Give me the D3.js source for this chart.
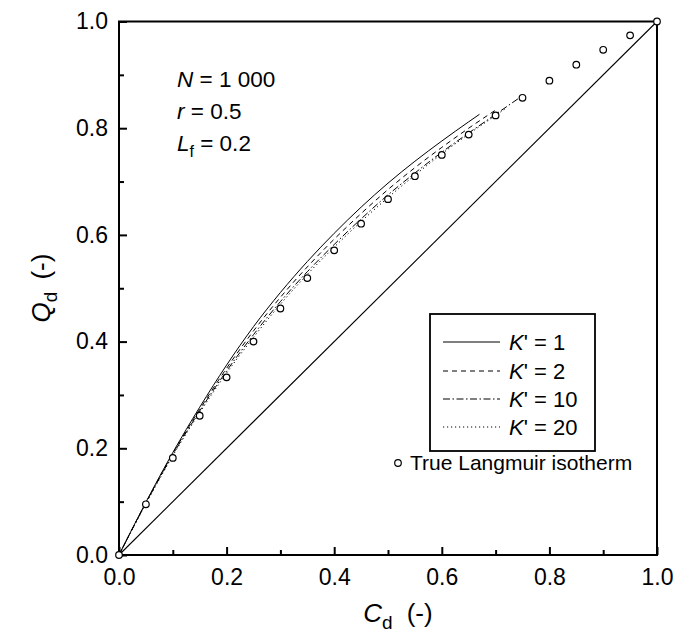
<!DOCTYPE html>
<html>
<head>
<meta charset="utf-8">
<script src="https://cdn.jsdelivr.net/npm/d3@7"></script>
<style>
  html, body { margin: 0; padding: 0; background: #fff; }
  svg text { font-family: "Liberation Sans", Arial, Helvetica, sans-serif; fill: #000; }
</style>
</head>
<body>
<svg id="chart" width="678" height="642"></svg>
<script>
// Dimensionless concentration grid shared by the curves
const cd = [0, 0.05, 0.1, 0.15, 0.2, 0.25, 0.3, 0.35, 0.4, 0.45, 0.5, 0.55, 0.6, 0.65, 0.7, 0.75];

// Simulated isotherms for each K'
const qK1  = [0, 0.099, 0.192, 0.277, 0.356, 0.428, 0.492, 0.550, 0.603, 0.652, 0.697, 0.738, 0.776, 0.812];
const cdK1End = 0.67, qK1End = 0.826;
const qK2  = [0, 0.098, 0.190, 0.273, 0.350, 0.420, 0.483, 0.540, 0.592, 0.640, 0.685, 0.726, 0.764, 0.800, 0.834];
const qK10 = [0, 0.097, 0.188, 0.270, 0.345, 0.413, 0.475, 0.531, 0.582, 0.630, 0.675, 0.716, 0.755, 0.791, 0.826, 0.861];
const qK20 = [0, 0.096, 0.186, 0.267, 0.341, 0.408, 0.470, 0.526, 0.577, 0.625, 0.670, 0.712, 0.752, 0.789, 0.824];
const cdK20End = 0.72, qK20End = 0.838;

// True Langmuir isotherm points
const langC = [0, 0.05, 0.1, 0.15, 0.2, 0.25, 0.3, 0.35, 0.4, 0.45, 0.5, 0.55, 0.6, 0.65, 0.7, 0.75, 0.8, 0.85, 0.9, 0.95, 1.0];
const langQ = [0, 0.095, 0.182, 0.261, 0.333, 0.400, 0.462, 0.519, 0.571, 0.621, 0.667, 0.710, 0.750, 0.788, 0.824, 0.857, 0.889, 0.919, 0.947, 0.974, 1.0];

// Axis ticks
const majorTicks = [0, 0.2, 0.4, 0.6, 0.8, 1.0];
const minorTicks = [0.1, 0.3, 0.5, 0.7, 0.9];

const legendLabels = ["1", "2", "10", "20"];

const svg = d3.select("#chart");
const plotLeft = 119, plotRight = 657, plotTop = 21.5, plotBottom = 555;

const x = d3.scaleLinear().domain([0, 1]).range([plotLeft, plotRight]);
const y = d3.scaleLinear().domain([0, 1]).range([plotBottom, plotTop]);

// Axes with inward ticks
const fmt = d3.format(".1f");
const xMajor = svg.append("g").attr("transform", `translate(0,${plotBottom})`)
  .call(d3.axisBottom(x).tickValues(majorTicks).tickFormat(fmt).tickSize(-8).tickPadding(14));
const xMinor = svg.append("g").attr("transform", `translate(0,${plotBottom})`)
  .call(d3.axisBottom(x).tickValues(minorTicks).tickFormat("").tickSize(-5));
const yMajor = svg.append("g").attr("transform", `translate(${plotLeft},0)`)
  .call(d3.axisLeft(y).tickValues(majorTicks).tickFormat(fmt).tickSize(-8).tickPadding(11));
const yMinor = svg.append("g").attr("transform", `translate(${plotLeft},0)`)
  .call(d3.axisLeft(y).tickValues(minorTicks).tickFormat("").tickSize(-5));

[xMajor, xMinor, yMajor, yMinor].forEach(g => {
  g.select(".domain").remove();
  g.selectAll(".tick line").attr("stroke", "#000").attr("stroke-width", 2);
  g.selectAll(".tick text").attr("font-size", 23).attr("fill", "#000");
});

// Plot frame
svg.append("rect")
  .attr("x", plotLeft).attr("y", plotTop)
  .attr("width", plotRight - plotLeft).attr("height", plotBottom - plotTop)
  .attr("fill", "none").attr("stroke", "#000").attr("stroke-width", 2);

// Diagonal reference line
svg.append("line")
  .attr("x1", x(0)).attr("y1", y(0)).attr("x2", x(1)).attr("y2", y(1))
  .attr("stroke", "#000").attr("stroke-width", 1.1);

const line = d3.line().x(d => x(d[0])).y(d => y(d[1])).curve(d3.curveMonotoneX);

const seriesK1 = qK1.map((q, i) => [cd[i], q]).concat([[cdK1End, qK1End]]);
const seriesK2 = qK2.map((q, i) => [cd[i], q]);
const seriesK10 = qK10.map((q, i) => [cd[i], q]);
const seriesK20 = qK20.map((q, i) => [cd[i], q]).concat([[cdK20End, qK20End]]);

const styles = [
  { data: seriesK1, dash: null },
  { data: seriesK2, dash: "5,4" },
  { data: seriesK10, dash: "7,2.5,1.5,2.5" },
  { data: seriesK20, dash: "1.2,2.8" }
];

styles.forEach(s => {
  svg.append("path")
    .attr("d", line(s.data))
    .attr("fill", "none")
    .attr("stroke", "#000")
    .attr("stroke-width", 1)
    .attr("stroke-dasharray", s.dash);
});

// Langmuir points
svg.append("g").selectAll("circle")
  .data(langC.map((c, i) => [c, langQ[i]]))
  .join("circle")
  .attr("cx", d => x(d[0])).attr("cy", d => y(d[1]))
  .attr("r", 3.3)
  .attr("fill", "#fff").attr("stroke", "#000").attr("stroke-width", 1.2);

// Parameter annotations
const ann = svg.append("g").attr("font-size", 22.5);
const t1 = ann.append("text").attr("x", 177).attr("y", 87);
t1.append("tspan").attr("font-style", "italic").text("N");
t1.append("tspan").text(" = 1 000");
const t2 = ann.append("text").attr("x", 177).attr("y", 119);
t2.append("tspan").attr("font-style", "italic").text("r");
t2.append("tspan").text(" = 0.5");
const t3 = ann.append("text").attr("x", 177).attr("y", 151);
t3.append("tspan").attr("font-style", "italic").text("L");
t3.append("tspan").attr("font-size", 16).attr("dy", 6).text("f");
t3.append("tspan").attr("dy", -6).text(" = 0.2");

// Legend box
const lg = svg.append("g");
lg.append("rect")
  .attr("x", 430).attr("y", 314).attr("width", 165).attr("height", 137)
  .attr("fill", "#fff").attr("stroke", "#000").attr("stroke-width", 1.8);
const rowY = [342, 371, 399, 427];
styles.forEach((s, i) => {
  lg.append("line")
    .attr("x1", 443).attr("x2", 500).attr("y1", rowY[i]).attr("y2", rowY[i])
    .attr("stroke", "#000").attr("stroke-width", 1)
    .attr("stroke-dasharray", s.dash);
  const t = lg.append("text").attr("x", 509).attr("y", rowY[i] + 8).attr("font-size", 22);
  t.append("tspan").attr("font-style", "italic").text("K");
  t.append("tspan").text("' = " + legendLabels[i]);
});

// Langmuir marker key
svg.append("circle").attr("cx", 398).attr("cy", 463).attr("r", 3.3)
  .attr("fill", "#fff").attr("stroke", "#000").attr("stroke-width", 1.2);
svg.append("text").attr("x", 410).attr("y", 470).attr("font-size", 21).text("True Langmuir isotherm");

// Axis titles
const xt = svg.append("text").attr("x", 398).attr("y", 622).attr("text-anchor", "middle").attr("font-size", 26);
xt.append("tspan").attr("font-style", "italic").text("C");
xt.append("tspan").attr("font-size", 19).attr("dy", 7).text("d");
xt.append("tspan").attr("dy", -7).attr("dx", 14).text("(-)");

const yt = svg.append("text").attr("transform", "translate(50,288) rotate(-90)").attr("text-anchor", "middle").attr("font-size", 26);
yt.append("tspan").attr("font-style", "italic").text("Q");
yt.append("tspan").attr("font-size", 19).attr("dy", 7).text("d");
yt.append("tspan").attr("dy", -7).attr("dx", 12).text("(-)");
</script>
</body>
</html>
